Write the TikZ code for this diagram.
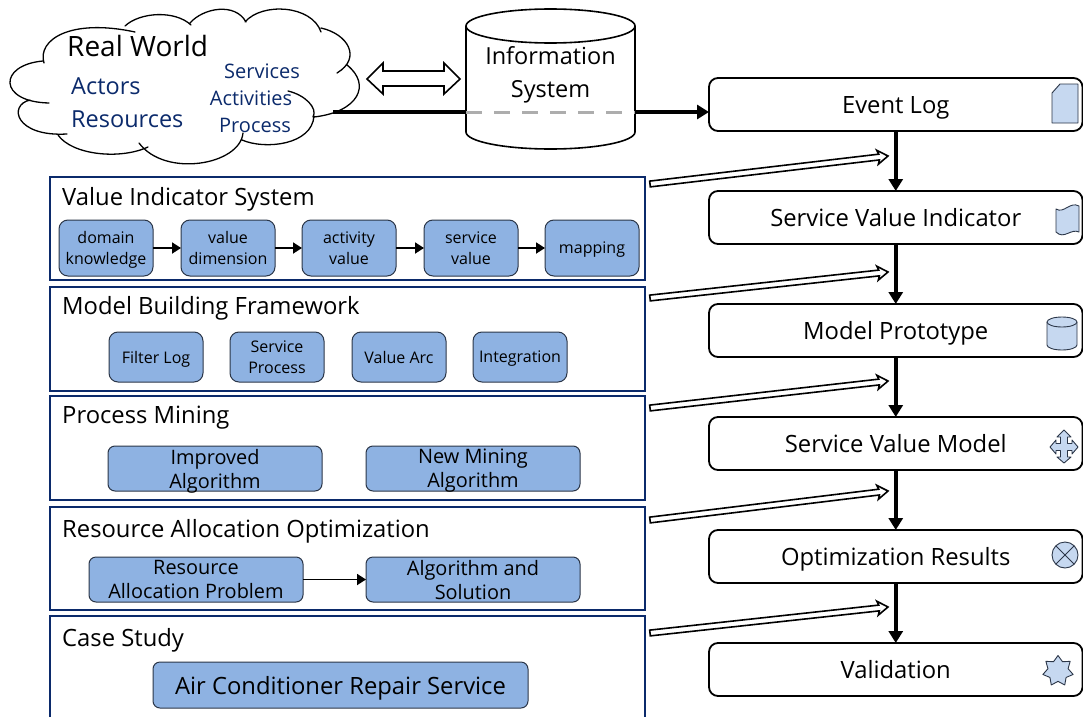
\documentclass[tikz,border=0pt]{standalone}
\usepackage{fontspec}
\setmainfont{Open Sans}
\usetikzlibrary{arrows.meta,shapes.geometric,calc}
\definecolor{navy}{HTML}{0B2A6B}
\definecolor{boxblue}{HTML}{8EB2E2}
\definecolor{iconblue}{HTML}{C6D8F0}
\definecolor{edgeblue}{HTML}{2B3648}
\tikzset{
  fs/.style={font=\fontsize{#1}{#1}\selectfont},
  fsl/.style 2 args={font=\fontsize{#1}{#2}\selectfont},
  frame/.style={draw=navy,line width=1.8pt,minimum width=595pt,anchor=north west,inner sep=0pt,outer sep=0pt},
  ftitle/.style={anchor=west,inner sep=0pt,fs=23.8,text=black,text height=20pt,text depth=2pt},
  inner box/.style={draw=edgeblue,fill=boxblue,line width=1pt,rounded corners=9pt,inner sep=0pt,outer sep=0pt,align=center,anchor=north west,text depth=0pt},
  stage/.style={draw=black,fill=white,line width=1.8pt,rounded corners=9pt,minimum width=373.5pt,minimum height=53pt,fs=23.8,inner sep=0pt,outer sep=0pt,anchor=north west,text height=20pt,text depth=2pt},
  flow/.style={line width=3.5pt,-{Triangle[length=12pt,width=14pt]}},
  small flow/.style={line width=1.8pt,-{Triangle[length=9pt,width=11pt]}},
  icon/.style={draw=edgeblue,fill=iconblue,line width=0.9pt,line join=round},
  hollow/.style={draw=black,fill=white,line width=1.6pt,line join=miter},
  blue text/.style={text=navy,inner sep=0pt}
}
\newcommand{\feed}[2]{%
  \draw[hollow] let \p1=($(#2)-(#1)$), \n1={atan2(\y1,\x1)}, \n2={veclen(\x1,\y1)} in
   [shift={(#1)},rotate=\n1]
   (0,2.9) -- (\n2-9,2.9) -- (\n2-10.5,7) -- (\n2,0) -- (\n2-10.5,-7) -- (\n2-9,-2.9) -- (0,-2.9) -- cycle;}
\begin{document}
\begin{tikzpicture}[x=1pt,y=-1pt]
\useasboundingbox (0,0) rectangle (1083,717);
% cloud
\draw[line width=1.3pt,fill=white,line cap=round]
 (44,63) .. controls (37,40) and (70,18) .. (135,32);
\draw[line width=1.3pt,line cap=round]
 (125,26) .. controls (140,12) and (175,10) .. (191,25)
 (190,23) .. controls (203,8) and (235,2) .. (246,22)
 (245,22) .. controls (262,2) and (312,5) .. (321,32)
 (321,28) .. controls (348,34) and (362,58) .. (337,73)
 (347,65) .. controls (372,85) and (358,112) .. (314,117)
 (288,91) .. controls (305,95) and (318,108) .. (313,117)
 (314,116) .. controls (312,145) and (265,150) .. (242,140)
 (243,133) .. controls (240,165) and (165,178) .. (139,143)
 (148,147) .. controls (120,160) and (72,155) .. (58,135)
 (67,134) .. controls (15,137) and (8,105) .. (30,100)
 (49,103) .. controls (-2,102) and (-2,65) .. (43,61);
\node[inner sep=0pt,minimum width=350pt,minimum height=160pt] (cloud) at (185,85) {};
\coordinate (cloudOut) at (333,112);
\node[inner sep=0pt,anchor=west,fs=28,text=black] (rw) at (67,46) {Real World};
\node[blue text,anchor=west,fs=23.5] (actors) at (71,86) {Actors};
\node[blue text,anchor=west,fs=23.5] (resources) at (71,119) {Resources};
\node[blue text,fs=20] (services) at (262,71) {Services};
\node[blue text,fs=20] (activities) at (251,98) {Activities};
\node[blue text,fs=20] (process) at (255,125.5) {Process};
% exchange arrow
\draw[hollow] (367,79) -- (383,63) -- (383,71) -- (444,71) -- (444,63) -- (460,79) -- (444,94) -- (444,86) -- (383,86) -- (383,94) -- cycle;
% information system
\draw[line width=1.6pt,fill=white] (466,26) -- (466,132) arc[start angle=180,end angle=0,x radius=84.5pt,y radius=-17pt] -- (635,26);
\draw[line width=1.6pt,fill=white] (550.5,26) ellipse[x radius=84.5pt,y radius=17pt];
\node[inner sep=0pt,align=center,fsl={23.5}{33},text=black,minimum width=169pt] (is) at (550.5,75) {Information\\System};
\coordinate (isL) at (466,112);
\coordinate (isR) at (635,112);
\draw[line width=3.5pt] (cloudOut) -- (isL);
\draw[draw=black!32,line width=3pt,dash pattern=on 16pt off 12pt] (isL) -- (isR);
% stages
\node[stage] (s1) at (709,78) {Event Log};
\node[stage] (s2) at (709,191) {Service Value Indicator};
\node[stage] (s3) at (709,304) {Model Prototype};
\node[stage] (s4) at (709,417) {Service Value Model};
\node[stage] (s5) at (709,530) {Optimization Results};
\node[stage] (s6) at (709,643) {Validation};
\draw[flow] (isR) -- (s1.west|-isR);
\draw[flow] (s1) -- (s2);
\draw[flow] (s2) -- (s3);
\draw[flow] (s3) -- (s4);
\draw[flow] (s4) -- (s5);
\draw[flow] (s5) -- (s6);
% frames
\node[frame,minimum height=103pt] (f1) at (50,177) {};
\node[frame,minimum height=104pt] (f2) at (50,287) {};
\node[frame,minimum height=104pt] (f3) at (50,396) {};
\node[frame,minimum height=103pt] (f4) at (50,507) {};
\draw[navy,line width=1.8pt] (50,717) -- (50,616) -- (645,616) -- (645,717);
\node[ftitle] (t1) at (62,196) {Value Indicator System};
\node[ftitle] (t2) at (62,305) {Model Building Framework};
\node[ftitle] (t3) at (62,414) {Process Mining};
\node[ftitle] (t4) at (62,528) {Resource Allocation Optimization};
\node[ftitle] (t5) at (62,637) {Case Study};
% row 1
\tikzset{rowone/.style={inner box,minimum width=94pt,minimum height=56pt,fsl={16}{21}}}
\node[rowone] (a1) at (59,220) {domain\\knowledge};
\node[rowone] (a2) at (181,220) {value\\dimension};
\node[rowone] (a3) at (302,220) {activity\\value};
\node[rowone] (a4) at (424,220) {service\\value};
\node[rowone] (a5) at (545,220) {mapping};
\draw[small flow] (a1) -- (a2);
\draw[small flow] (a2) -- (a3);
\draw[small flow] (a3) -- (a4);
\draw[small flow] (a4) -- (a5);
% row 2
\tikzset{rowtwo/.style={inner box,minimum width=94pt,minimum height=50pt,fsl={16}{21}}}
\node[rowtwo] (b1) at (109,332) {Filter Log};
\node[rowtwo] (b2) at (230,332) {Service\\Process};
\node[rowtwo] (b3) at (352,332) {Value Arc};
\node[rowtwo] (b4) at (473,332) {Integration};
% rows 3, 4
\tikzset{wide/.style={inner box,minimum width=214pt,minimum height=45pt,rounded corners=7pt,fsl={19.9}{24}}}
\node[wide] (c1) at (108,446) {Improved\\Algorithm};
\node[wide] (c2) at (366,446) {New Mining\\Algorithm};
\node[wide] (d1) at (89,557) {Resource\\Allocation Problem};
\node[wide] (d2) at (366,557) {Algorithm and\\Solution};
\draw[small flow] (d1) -- (d2);
\node[inner box,minimum width=375pt,minimum height=46pt,rounded corners=7pt,fs=23.8] (e1) at (153,662) {Air Conditioner Repair Service};
% feeds
\coordinate (g1) at (650,184); \coordinate (h1) at (888,156);
\coordinate (g2) at (650,298); \coordinate (h2) at (888,272);
\coordinate (g3) at (650,408); \coordinate (h3) at (888,381);
\coordinate (g4) at (650,520); \coordinate (h4) at (888,491);
\coordinate (g5) at (650,633); \coordinate (h5) at (888,607);
\feed{g1}{h1}\feed{g2}{h2}\feed{g3}{h3}\feed{g4}{h4}\feed{g5}{h5}
% icons
\draw[icon] (1052,93) -- (1060,84) -- (1078,84) -- (1078,123) -- (1052,123) -- cycle;
\draw[icon] (1056,209) .. controls (1064,214) and (1070,201) .. (1079,206) -- (1079,232)
  .. controls (1071,228) and (1064,240) .. (1056,232) -- cycle;
\draw[icon] (1047,322) -- (1047,345) arc[start angle=180,end angle=0,x radius=15pt,y radius=-5pt] -- (1077,322);
\draw[icon] (1062,322) ellipse[x radius=15pt,y radius=5pt];
\draw[icon] (1064,430) -- (1071,437) -- (1067.5,437) -- (1067.5,443.5) -- (1072,443.5) -- (1072,440) -- (1078,447)
  -- (1072,454) -- (1072,450.5) -- (1067.5,450.5) -- (1067.5,457) -- (1071,457) -- (1064,463) -- (1057,457) -- (1060.5,457)
  -- (1060.5,450.5) -- (1056,450.5) -- (1056,454) -- (1050,447) -- (1056,440) -- (1056,443.5) -- (1060.5,443.5) -- (1060.5,437) -- (1057,437) -- cycle;
\draw[icon] (1065,555) circle[radius=13pt];
\draw[edgeblue,line width=0.9pt] (1055.8,545.8) -- (1074.2,564.2) (1055.8,564.2) -- (1074.2,545.8);
\node[star,star points=7,star point ratio=1.5,minimum size=31pt,inner sep=0pt,icon] (st) at (1058,671) {};
\end{tikzpicture}
\end{document}
